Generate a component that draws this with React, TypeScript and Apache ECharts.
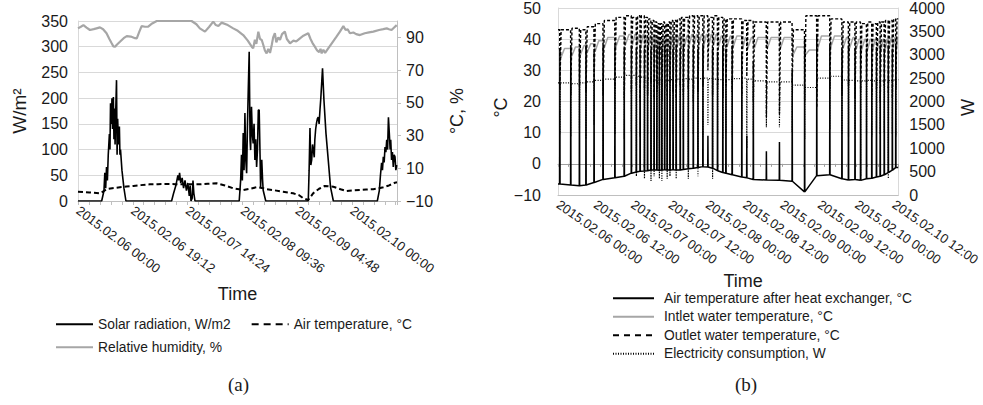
import React, { useEffect, useRef } from 'react';
import * as echarts from 'echarts';

// ---------- Panel (a): hours since 2015.02.06 00:00 ----------
const solarHours = [
  0, 8.3, 9.1, 9.4, 9.7, 10.0, 10.3, 10.6, 11.0, 11.2, 11.4, 11.7, 11.9, 12.1, 12.4, 12.6, 12.8, 13.0, 13.2, 13.5, 13.7, 13.9, 14.2, 14.5, 14.7, 14.9, 15.4, 16.1, 16.8,
  32.8, 33.5, 34.3, 35.0, 35.3, 35.6, 36.0, 36.5, 37.0, 37.5, 38.0, 38.5, 39.0, 39.3, 39.6, 40.0, 40.3, 40.6, 41.0,
  56.5, 57.0, 57.3, 57.6, 57.9, 58.2, 58.5, 58.8, 59.1, 59.4, 59.7, 60.0, 60.3, 60.5, 60.8, 61.1, 61.4, 61.7, 62.0, 62.3, 62.6, 62.9, 63.2, 63.5, 63.8, 64.0, 64.2, 64.4, 64.7, 64.9, 65.8,
  80.7, 81.0, 81.3, 81.6, 81.9, 82.2, 82.5, 82.8, 83.0, 83.3, 83.6, 83.9, 84.2, 84.5, 84.8, 85.1, 85.4, 85.7, 86.0, 86.2, 86.9, 87.7, 88.5, 89.5,
  104.9, 105.6, 106.0, 106.4, 106.7, 107.0, 107.3, 107.6, 107.9, 108.2, 108.5, 108.8, 109.1, 109.4, 109.6, 109.9, 110.2, 110.5, 110.8, 111.1, 111.4, 111.7,
];
const solarValues = [
  0, 0, 20, 55, 25, 66, 40, 90, 130, 100, 190, 150, 200, 140, 202, 120, 180, 110, 170, 235, 90, 160, 110, 145, 90, 100, 60, 25, 0,
  0, 15, 30, 50, 40, 55, 35, 45, 25, 40, 20, 35, 10, 30, 0, 5, 40, 15, 0,
  0, 40, 90, 40, 132, 60, 171, 80, 54, 150, 222, 290, 120, 99, 183, 130, 112, 150, 80, 120, 66, 100, 177, 177, 90, 27, 60, 80, 40, 21, 0,
  0, 60, 142, 70, 80, 110, 99, 85, 119, 140, 152, 160, 163, 150, 177, 200, 229, 258, 220, 196, 132, 80, 27, 0,
  0, 20, 50, 74, 60, 86, 75, 105, 95, 119, 100, 163, 132, 100, 119, 80, 95, 66, 90, 86, 60, 70,
];
const airHours = [0, 4, 7.7, 9, 10, 12, 14.7, 17, 19.4, 22, 25.2, 28, 31.1, 34, 36.9, 40, 42.7, 45.5, 48.6, 51.5, 54.4, 57.9, 60, 62.6, 64.4, 66.1, 69, 71.9, 75.4, 77.5, 78.9, 80.7, 81.5, 82.4, 84.5, 86.5, 89.5, 92, 94.1, 96.5, 98.8, 101, 103.5, 105.5, 107.0, 109, 111.1, 111.8];
const airValues = [-4.3, -4.8, -5.3, -4.0, -2.8, -2.2, -1.6, -1.2, -0.8, -0.3, 0.2, 0.3, 0.4, 0.3, 0.2, 0.2, 0.2, 0.5, 0.8, -0.5, -2.2, -3.3, -2.6, -1.6, -2.0, -2.8, -3.5, -4.3, -5.3, -6.5, -8.3, -9.4, -7.5, -5.3, -2.5, -0.8, -1.3, -2.8, -3.9, -3.5, -3.3, -3.0, -2.8, -2.2, -1.6, -0.5, 1.2, 1.4];
const rhHours = [0, 1.0, 1.9, 3.0, 4.2, 5.5, 6.5, 7.7, 8.8, 10.0, 11.0, 11.8, 12.4, 13.0, 13.6, 14.7, 16.0, 17.1, 18.5, 20.0, 20.6, 21.5, 22.3, 23.5, 24.6, 26.0, 27.6, 33.4, 36.5, 39.8, 41.5, 42.7, 44.5, 46.0, 47.4, 48.3, 49.2, 50.3, 52.5, 54.4, 56.0, 57.9, 59.5, 61.0, 61.4, 62.0, 62.5, 63.2, 63.8, 64.4, 65.0, 65.5, 66.1, 66.7, 67.3, 67.9, 68.4, 69.0, 69.5, 70.2, 70.8, 71.5, 72.5, 73.2, 74.3, 75.5, 76.5, 77.8, 79.0, 80.7, 81.5, 82.2, 83.0, 83.8, 84.5, 85.0, 85.4, 86.0, 86.6, 87.7, 89.0, 90.6, 91.8, 93.0, 93.8, 94.5, 95.3, 96.5, 97.5, 98.8, 100.5, 102.0, 103.5, 105.5, 107.0, 108.2, 109.0, 109.9, 110.8, 111.7];
const rhValues = [95.5, 96.5, 97.5, 96, 94.5, 95, 95.5, 96.1, 95, 92.5, 89, 86.4, 84.5, 84.3, 85.5, 87.3, 89.5, 90.8, 90.5, 89.5, 89.4, 93.5, 96.9, 96.5, 96.6, 98.5, 100, 100, 100, 100, 98, 95.5, 93.5, 96.5, 99.6, 97.5, 96.9, 99, 97.5, 95.5, 94, 91.4, 88, 84, 83.3, 88.5, 86, 93.5, 89, 88.4, 85, 82, 80.2, 83, 80.5, 85.3, 90, 92.5, 87, 90, 88.4, 92, 93.5, 89, 86.4, 88, 87.5, 89.4, 91, 92.5, 89, 86.5, 84.3, 82, 81, 83, 80.2, 82.5, 80.5, 83.3, 86.5, 90.4, 93.5, 96.9, 94.5, 95, 92.5, 93, 92, 91.4, 92.5, 93, 93.5, 94.5, 95, 95.5, 95, 94.5, 96, 97.5];

// ---------- Panel (b): defrost cycles (hours since 2015.02.06 00:00) ----------
const cycleHours = [0.6, 4.1, 6.9, 9.0, 11.6, 14.5, 18.3, 21.3, 23.6, 25.2, 26.4, 27.8, 28.8, 29.9, 30.9, 31.8, 32.6, 33.4, 34.3, 35.1, 36.0, 37.0, 38.0, 39.3, 40.3, 41.9, 43.5, 45.0, 46.6, 48.2, 49.7, 51.3, 53.0, 54.0, 56.0, 59.1, 60.7, 62.8, 67.0, 71.2, 75.3, 79.3, 83.2, 87.4, 91.3, 93.4, 95.5, 97.3, 99.2, 100.9, 102.4, 103.6, 104.9, 106.2, 107.5, 108.6];
const hxAirBase = [-6.5, -6.8, -7.0, -6.8, -6.0, -5.0, -4.5, -4.0, -3.0, -2.6, -2.4, -2.3, -2.2, -2.0, -2.0, -2.0, -2.1, -2.0, -1.9, -2.0, -2.0, -1.9, -2.0, -2.0, -1.8, -1.6, -1.4, -1.2, -0.9, -1.0, -1.4, -2.2, -2.8, -3.0, -3.5, -4.2, -4.5, -5.0, -5.2, -5.3, -5.6, -9.0, -3.8, -3.5, -4.8, -5.2, -5.0, -5.3, -4.8, -4.6, -4.2, -4.0, -3.5, -2.8, -2.0, -1.2];
const hxAirPeak = [37, 38, 37, 38, 36, 38, 38, 37, 38, 37, 38, 37, 38, 37, 38, 37, 38, 37, 38, 37, 38, 37, 38, 37, 38, 37, 38, 37, 38, 9, 37, 36, 38, 37, 38, 36, 9, 33, 4, 7, 30, 40, 41, 38, 37, 38, 37, 38, 37, 38, 37, 38, 37, 38, 37, 38];
const outletTop = [43, 43.5, 43, 44, 45, 46, 47, 47.5, 47, 47.5, 47.5, 47, 46.5, 46, 45.5, 45, 45, 45.5, 45, 45.5, 46, 46, 46.5, 47, 47, 47.5, 47.5, 47.5, 47.5, 47, 47.5, 47, 46.5, 46.5, 46.5, 46, 46, 45.5, 45.5, 45.5, 43, 47.5, 47.5, 46.5, 45.5, 45.5, 45.5, 45, 45.5, 45, 45.5, 45.5, 46, 46, 46.5, 46.5];
const outletLow = [24, 22, 25, 23, 26, 22, 24, 21, 23, 25, 20, 24, 22, 26, 21, 23, 25, 20, 24, 22, 26, 23, 21, 25, 22, 24, 20, 23, 25, 30, 22, 24, 21, 25, 23, 22, 28, 20, 15, 16, 26, 20, 18, 24, 22, 25, 21, 23, 26, 22, 24, 20, 25, 23, 21, 24];
const inletTop = [37, 37.5, 38, 38.5, 39.5, 40.5, 41, 41.5, 41.5, 41.5, 41.5, 41, 41, 41, 40.5, 40.5, 40.5, 40.5, 40.5, 40.5, 41, 41, 41, 41, 41, 41.5, 41.5, 41.5, 41.5, 41.5, 41.5, 41, 41, 41, 41, 40.5, 40.5, 40.5, 40.5, 40.5, 37.5, 36.5, 41, 41, 40.5, 40.5, 40, 40, 40, 40, 40, 40, 40, 40.5, 40.5, 40.5];
const inletLow = [34, 34.5, 35, 35.5, 36, 37, 37.5, 38, 38, 38, 38, 37.5, 37.5, 37.5, 37, 37, 37, 37, 37, 37, 37.5, 37.5, 37.5, 37.5, 37.5, 38, 38, 38, 38, 38, 38, 37.5, 37.5, 37.5, 37.5, 37, 37, 37, 37, 37, 35, 35, 37, 37.5, 37, 37, 36.5, 36.5, 36.5, 36.5, 36.5, 36.5, 36.5, 37, 37, 37];
const elecTop = [2400, 2380, 2400, 2420, 2450, 2480, 2520, 2560, 2560, 2540, 2520, 2500, 2500, 2480, 2460, 2450, 2460, 2440, 2460, 2450, 2470, 2460, 2480, 2470, 2490, 2480, 2500, 2490, 2500, 2490, 2480, 2470, 2460, 2470, 2490, 2500, 2480, 2440, 2420, 2420, 2350, 2300, 2500, 2540, 2460, 2450, 2440, 2440, 2450, 2440, 2450, 2440, 2460, 2450, 2460, 2470];
const elecLow = [1300, 1250, 1400, 1200, 1500, 350, 1300, 1200, 1350, 400, 1250, 350, 1300, 300, 400, 1200, 350, 300, 1250, 350, 400, 1300, 350, 1400, 1200, 350, 1300, 400, 1250, 1500, 350, 1300, 1200, 1320, 1250, 1400, 1000, 1300, 1450, 1450, 1350, 1200, 2100, 1400, 1300, 1250, 1350, 400, 1300, 1250, 1400, 1300, 1350, 350, 1300, 1250];

const L_MAX = 111.8;
const R_MAX = 109.4;

const FONT = "'Liberation Sans', Arial, sans-serif";
const TEXT = '#1a1a1a';
const GRID = '#d9d9d9';
const AXIS = '#bfbfbf';
const GRAY_LINE = '#a6a6a6';

const pad = (n: number) => String(n).padStart(2, '0');
function fmtTime(h: number) {
  const mins = Math.round(h * 60);
  const day = 6 + Math.floor(mins / 1440);
  const hh = Math.floor((mins % 1440) / 60);
  const mm = mins % 60;
  return `2015.02.${pad(day)} ${pad(hh)}:${pad(mm)}`;
}
const minus = (v: number) => String(v).replace('-', '\u2212');
const plain = (v: number) => String(v);
const zip = (xs: number[], ys: number[]) => xs.map((x, i) => [x, ys[i]]);

function spikeSeries(base: number[], peak: number[]) {
  const pts: number[][] = [[0, base[0]]];
  cycleHours.forEach((t, i) => {
    pts.push([t - 0.06, base[i]], [t, peak[i]], [t + 0.06, base[i]]);
  });
  pts.push([R_MAX, base[base.length - 1]]);
  return pts;
}
function dipSeries(tops: number[], lows: number[], down: number, lowAt: number, up: number) {
  const pts: number[][] = [[0, tops[0]]];
  cycleHours.forEach((t, i) => {
    const prev = i === 0 ? tops[0] : tops[i - 1];
    const next = i + 1 < cycleHours.length ? cycleHours[i + 1] : R_MAX;
    const rec = Math.min(up, (next - t) * 0.7);
    pts.push([t - down, prev], [t + Math.min(lowAt, rec * 0.4), lows[i]], [t + rec, tops[i]]);
  });
  pts.push([R_MAX, tops[tops.length - 1]]);
  return pts;
}

const tickLabel = { fontSize: 16, color: TEXT, fontFamily: FONT };
const nameStyle = { fontSize: 18, color: TEXT, fontFamily: FONT };
const legendText = { fontSize: 13.8, color: TEXT, fontFamily: FONT, lineHeight: 16.5 };
const hiddenSymbol = { color: 'rgba(0,0,0,0)', borderWidth: 0, opacity: 0 };

export default function App() {
  const ref = useRef<HTMLDivElement>(null);
  useEffect(() => {
    if (!ref.current) return;
    const chart = echarts.init(ref.current, undefined, { renderer: 'svg' });
    const lineBase = { type: 'line', symbol: 'none', showSymbol: false, smooth: false };
    chart.setOption({
      animation: false,
      backgroundColor: '#ffffff',
      grid: [
        { left: 78, top: 21, width: 319, height: 180 },
        { left: 558, top: 8, width: 349, height: 187 },
      ],
      xAxis: [
        {
          type: 'value', gridIndex: 0, min: 0, max: L_MAX, interval: 19.2,
          name: 'Time', nameLocation: 'middle', nameGap: 84, nameTextStyle: nameStyle,
          axisLine: { show: true, onZero: false, lineStyle: { color: AXIS } },
          axisTick: { show: true, length: 4, lineStyle: { color: AXIS } },
          minorTick: { show: true, splitNumber: 5, length: 4, lineStyle: { color: AXIS } },
          splitLine: { show: false },
          axisLabel: { rotate: -37, margin: 8, fontSize: 13, color: TEXT, fontFamily: FONT, formatter: fmtTime, showMaxLabel: false },
        },
        {
          type: 'value', gridIndex: 1, min: 0, max: R_MAX, interval: 12, position: 'bottom',
          name: 'Time', nameLocation: 'middle', nameGap: 77, nameTextStyle: { ...nameStyle, padding: [0, 0, 0, 30] },
          axisLine: { show: true, onZero: false, lineStyle: { color: AXIS } },
          axisTick: { show: false },
          splitLine: { show: false },
          axisLabel: { rotate: -35, margin: 8, fontSize: 13, color: TEXT, fontFamily: FONT, formatter: fmtTime, showMaxLabel: false },
        },
        {
          type: 'value', gridIndex: 1, min: 0, max: R_MAX, interval: 3.43, position: 'bottom',
          axisLine: { show: true, onZero: true, onZeroAxisIndex: 2, lineStyle: { color: '#a0a0a0' } },
          axisTick: { show: true, length: 3, lineStyle: { color: '#a0a0a0' } },
          axisLabel: { show: false },
          splitLine: { show: false },
        },
      ],
      yAxis: [
        {
          type: 'value', gridIndex: 0, position: 'left', min: 0, max: 350, interval: 50,
          name: 'W/m\u00b2', nameLocation: 'middle', nameRotate: 90, nameGap: 49, nameTextStyle: { ...nameStyle, fontSize: 19 },
          axisLine: { show: true, lineStyle: { color: GRID } },
          axisTick: { show: false },
          splitLine: { show: true, lineStyle: { color: GRID } },
          axisLabel: { ...tickLabel, margin: 10, formatter: plain },
        },
        {
          type: 'value', gridIndex: 0, position: 'right', min: -10, max: 100, interval: 20,
          name: '\u00b0C, %', nameLocation: 'middle', nameRotate: 90, nameGap: 51, nameTextStyle: nameStyle,
          axisLine: { show: true, lineStyle: { color: AXIS } },
          axisTick: { show: true, length: 4, lineStyle: { color: AXIS } },
          splitLine: { show: false },
          axisLabel: { ...tickLabel, margin: 9, formatter: minus, showMaxLabel: false },
        },
        {
          type: 'value', gridIndex: 1, position: 'left', min: -10, max: 50, interval: 10,
          name: '\u00b0C', nameLocation: 'middle', nameRotate: 90, nameGap: 38, nameTextStyle: { ...nameStyle, padding: [0, 12, 0, 0] },
          axisLine: { show: true, onZero: false, lineStyle: { color: GRID } },
          axisTick: { show: false },
          splitLine: { show: true, lineStyle: { color: GRID } },
          axisLabel: { ...tickLabel, margin: 17, formatter: minus },
        },
        {
          type: 'value', gridIndex: 1, position: 'right', min: 0, max: 4000, interval: 500,
          name: 'W', nameLocation: 'middle', nameRotate: 90, nameGap: 61, nameTextStyle: { ...nameStyle, padding: [0, 12, 0, 0] },
          axisLine: { show: true, onZero: false, lineStyle: { color: GRID } },
          axisTick: { show: false },
          splitLine: { show: false },
          axisLabel: { ...tickLabel, margin: 11, formatter: plain },
        },
      ],
      legend: [
        {
          data: ['Solar radiation, W/m2', { name: 'Air temperature, \u00b0C', lineStyle: { type: [7, 5] } }],
          left: 55, top: 316, padding: 0, itemWidth: 37, itemHeight: 14, itemGap: 20, selectedMode: false,
          itemStyle: hiddenSymbol, textStyle: legendText,
        },
        {
          data: ['Relative humidity, %'],
          left: 55, top: 339, padding: 0, itemWidth: 37, itemHeight: 14, selectedMode: false,
          itemStyle: hiddenSymbol, textStyle: legendText,
        },
        {
          data: [
            'Air temperature after heat exchanger, \u00b0C',
            'Intlet water temperature, \u00b0C',
            { name: 'Outlet water temperature, \u00b0C', lineStyle: { type: [6, 5], width: 2 } },
            'Electricity consumption, W',
          ],
          orient: 'vertical', left: 612, top: 290, padding: 0, itemWidth: 41, itemHeight: 12, itemGap: 2, selectedMode: false,
          itemStyle: hiddenSymbol, textStyle: { ...legendText, padding: [0, 0, 0, 5] },
        },
      ],
      graphic: [
        { type: 'text', left: 228, top: 375, style: { text: '(a)', fontSize: 19, fontFamily: "'Liberation Serif', 'Times New Roman', serif", fill: TEXT } },
        { type: 'text', left: 735, top: 375, style: { text: '(b)', fontSize: 19, fontFamily: "'Liberation Serif', 'Times New Roman', serif", fill: TEXT } },
      ],
      series: [
        {
          ...lineBase, name: 'Relative humidity, %', xAxisIndex: 0, yAxisIndex: 1,
          data: zip(rhHours, rhValues), lineStyle: { color: GRAY_LINE, width: 2.2 }, itemStyle: { color: GRAY_LINE },
        },
        {
          ...lineBase, name: 'Air temperature, \u00b0C', xAxisIndex: 0, yAxisIndex: 1,
          data: zip(airHours, airValues), lineStyle: { color: '#000', width: 2, type: [5, 3] }, itemStyle: { color: '#000' },
        },
        {
          ...lineBase, name: 'Solar radiation, W/m2', xAxisIndex: 0, yAxisIndex: 0,
          data: zip(solarHours, solarValues), lineStyle: { color: '#000', width: 1.6 }, itemStyle: { color: '#000' },
        },
        {
          ...lineBase, name: 'Intlet water temperature, \u00b0C', xAxisIndex: 1, yAxisIndex: 2,
          data: dipSeries(inletTop, inletLow, 0.05, 0.3, 1.5), lineStyle: { color: GRAY_LINE, width: 1.5 }, itemStyle: { color: GRAY_LINE },
        },
        {
          ...lineBase, name: 'Electricity consumption, W', xAxisIndex: 1, yAxisIndex: 3,
          data: dipSeries(elecTop, elecLow, 0.04, 0, 0.1), lineStyle: { color: '#000', width: 1.2, type: [1, 1.5] }, itemStyle: { color: '#000' },
        },
        {
          ...lineBase, name: 'Outlet water temperature, \u00b0C', xAxisIndex: 1, yAxisIndex: 2,
          data: dipSeries(outletTop, outletLow, 0.05, 0, 0.4), lineStyle: { color: '#000', width: 1.4, type: [3, 2] }, itemStyle: { color: '#000' },
        },
        {
          ...lineBase, name: 'Air temperature after heat exchanger, \u00b0C', xAxisIndex: 1, yAxisIndex: 2,
          data: spikeSeries(hxAirBase, hxAirPeak), lineStyle: { color: '#000', width: 1.5 }, itemStyle: { color: '#000' },
        },
      ],
    });
    return () => chart.dispose();
  }, []);
  return (
    <div
      ref={ref}
      style={{ position: 'fixed', left: 0, top: 0, width: 983, height: 405, background: '#fff' }}
    />
  );
}
